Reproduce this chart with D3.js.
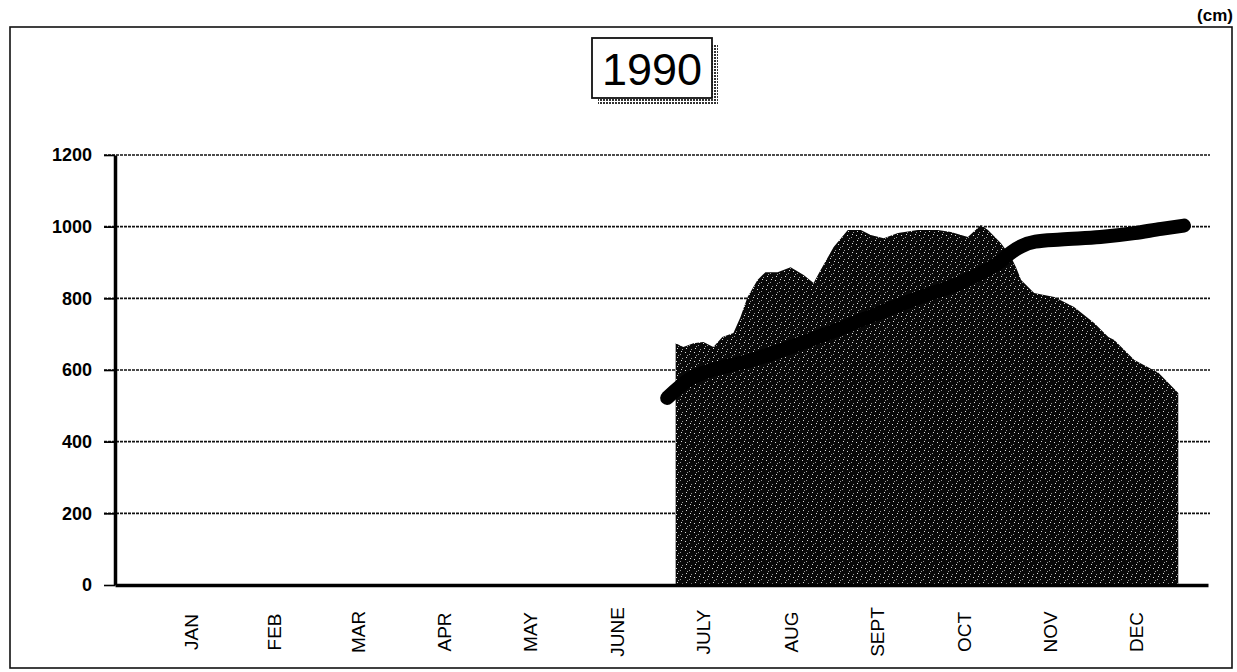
<!DOCTYPE html>
<html>
<head>
<meta charset="utf-8">
<script src="https://cdn.jsdelivr.net/npm/d3@7"></script>
<style>
  body { margin: 0; background: #fff; }
  svg { display: block; }
</style>
</head>
<body>
<svg id="chart" width="1237" height="672"></svg>
<script>
// chart data
const titleText = '1990';
const unitText = '(cm)';
const months = ['JAN', 'FEB', 'MAR', 'APR', 'MAY', 'JUNE', 'JULY', 'AUG', 'SEPT', 'OCT', 'NOV', 'DEC'];
const monthMidDays = [15.5, 45, 74.5, 105, 135.5, 166, 196.5, 227.5, 258, 288.5, 319, 349.5];
const yTicks = [0, 200, 400, 600, 800, 1000, 1200];

// filled series (day of year, cm)
const areaDays = [188, 190.7, 194.3, 197.8, 201.3, 204.5, 208.4, 210.9, 213.4, 216.9, 219.7, 224, 228.6,
  233.2, 236.7, 239.2, 243.8, 248.8, 253.4, 256.9, 261.5, 266.5, 273.5, 280.6, 285.2, 291.2, 295.8,
  298.3, 302.9, 306.4, 308.2, 310, 314.6, 321.7, 328.7, 335.8, 340.8, 342.9, 350, 358.5, 365.5];
const areaValues = [675, 664, 675, 678, 664, 692, 703, 748, 804, 851, 873, 873, 887,
  865, 843, 879, 943, 991, 991, 977, 968, 982, 991, 991, 985, 971, 1005,
  991, 954, 916, 887, 851, 815, 804, 776, 731, 692, 684, 628, 592, 536];

// thick line series (day of year, cm)
const lineDays = [185, 193, 200, 215, 230, 245, 260, 275, 290, 303, 306.5, 310, 315, 324, 338, 350, 359.5, 367.5];
const lineValues = [522, 575, 598, 628, 668, 712, 760, 805, 848, 905, 928, 945, 958, 964, 971, 982, 994, 1003];

const svg = d3.select('#chart');

const x = d3.scaleLinear().domain([-10, 376]).range([115, 1208]);
const y = d3.scaleLinear().domain([0, 1200]).range([585, 155]);

const font = 'Liberation Sans, Arial, sans-serif';
const defs = svg.append('defs');

// speckled dark fill, like the halftone in the scan
const speck = defs.append('pattern')
  .attr('id', 'speck')
  .attr('patternUnits', 'userSpaceOnUse')
  .attr('width', 9).attr('height', 9);
speck.append('rect').attr('width', 9).attr('height', 9).attr('fill', '#080808');
[[1, 1], [5, 3], [2, 6], [7, 7], [6, 0], [3, 4]].forEach(([px, py], i) => {
  speck.append('rect')
    .attr('x', px).attr('y', py)
    .attr('width', 1).attr('height', 1)
    .attr('fill', i % 2 ? '#999' : '#ddd');
});

const shade = defs.append('pattern')
  .attr('id', 'shade')
  .attr('patternUnits', 'userSpaceOnUse')
  .attr('width', 3).attr('height', 3);
shade.append('rect').attr('width', 3).attr('height', 3).attr('fill', '#fff');
shade.append('rect').attr('width', 2).attr('height', 2).attr('fill', '#333');

// outer frame
svg.append('rect')
  .attr('x', 10).attr('y', 27)
  .attr('width', 1222).attr('height', 641)
  .attr('fill', 'none')
  .attr('stroke', '#111')
  .attr('stroke-width', 1.6);

svg.append('text')
  .attr('x', 1233).attr('y', 21)
  .attr('text-anchor', 'end')
  .attr('font-family', font)
  .attr('font-size', 17)
  .attr('font-weight', 'bold')
  .attr('fill', '#000')
  .text(unitText);

// title box with shadow
const tb = { x: 592, y: 38, w: 120, h: 60 };
svg.append('rect')
  .attr('x', tb.x + 6).attr('y', tb.y + 6)
  .attr('width', tb.w).attr('height', tb.h)
  .attr('fill', 'url(#shade)');
svg.append('rect')
  .attr('x', tb.x).attr('y', tb.y)
  .attr('width', tb.w).attr('height', tb.h)
  .attr('fill', '#fff')
  .attr('stroke', '#111')
  .attr('stroke-width', 1.8);
svg.append('text')
  .attr('x', tb.x + tb.w / 2).attr('y', tb.y + 47)
  .attr('text-anchor', 'middle')
  .attr('font-family', font)
  .attr('font-size', 45)
  .attr('fill', '#000')
  .text(titleText);

// grid lines
svg.append('g')
  .selectAll('line')
  .data(yTicks.filter(d => d > 0))
  .join('line')
  .attr('x1', 104).attr('x2', 1210)
  .attr('y1', d => y(d)).attr('y2', d => y(d))
  .attr('stroke', '#111')
  .attr('stroke-width', 1.6)
  .attr('stroke-dasharray', '3,1');

// filled series
const area = d3.area()
  .x((d, i) => x(areaDays[i]))
  .y0(y(0))
  .y1(d => y(d));
svg.append('path')
  .datum(areaValues)
  .attr('d', area)
  .attr('fill', 'url(#speck)');

// thick line series
const line = d3.line()
  .x((d, i) => x(lineDays[i]))
  .y(d => y(d))
  .curve(d3.curveMonotoneX);
svg.append('path')
  .datum(lineValues)
  .attr('d', line)
  .attr('fill', 'none')
  .attr('stroke', '#000')
  .attr('stroke-width', 14)
  .attr('stroke-linecap', 'round')
  .attr('stroke-linejoin', 'round');

// y axis
const yAxis = svg.append('g')
  .attr('transform', `translate(${x(-10)},0)`)
  .call(d3.axisLeft(y).tickValues(yTicks).tickFormat(d3.format('d'))
    .tickSize(11).tickSizeOuter(0).tickPadding(12));
yAxis.select('.domain').attr('stroke', '#000').attr('stroke-width', 3.5);
yAxis.selectAll('.tick line').attr('stroke', '#000').attr('stroke-width', 1.6);
yAxis.selectAll('.tick text')
  .attr('font-family', font)
  .attr('font-size', 18)
  .attr('font-weight', 'bold')
  .attr('fill', '#000');

// x axis
const xAxis = svg.append('g')
  .attr('transform', `translate(0,${y(0)})`)
  .call(d3.axisBottom(x).tickValues(monthMidDays).tickSize(0).tickFormat((d, i) => months[i]));
xAxis.select('.domain').attr('stroke', '#000').attr('stroke-width', 3.5);
xAxis.selectAll('.tick text')
  .attr('font-family', font)
  .attr('font-size', 19)
  .attr('fill', '#000')
  .attr('text-anchor', 'middle')
  .attr('dy', null)
  .attr('transform', 'translate(7,47) rotate(-90)');
</script>
</body>
</html>
